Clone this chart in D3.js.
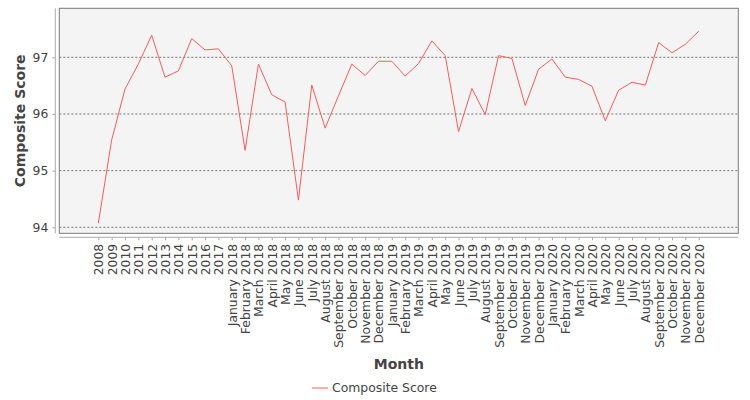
<!DOCTYPE html>
<meta charset="utf-8">
<script src="https://d3js.org/d3.v7.min.js"></script>
<style>
  body { margin: 0; background: #fff; }
  text { font-family: "DejaVu Sans", sans-serif; fill: #444; }
</style>
<div id="chart"></div>
<script>
  // categories (x axis)
  const months = ["2008", "2009", "2010", "2011", "2012", "2013", "2014", "2015", "2016", "2017",
    "January 2018", "February 2018", "March 2018", "April 2018", "May 2018", "June 2018",
    "July 2018", "August 2018", "September 2018", "October 2018", "November 2018", "December 2018",
    "January 2019", "February 2019", "March 2019", "April 2019", "May 2019", "June 2019",
    "July 2019", "August 2019", "September 2019", "October 2019", "November 2019", "December 2019",
    "January 2020", "February 2020", "March 2020", "April 2020", "May 2020", "June 2020",
    "July 2020", "August 2020", "September 2020", "October 2020", "November 2020", "December 2020"]

  // series values
  const composite = [94.07, 95.54, 96.44, 96.88, 97.39, 96.65, 96.76, 97.33, 97.13, 97.15,
    96.85, 95.36, 96.88, 96.34, 96.21, 94.48, 96.51, 95.75, 96.32, 96.88, 96.68, 96.93,
    96.93, 96.67, 96.89, 97.29, 97.03, 95.69, 96.45, 95.99, 97.03, 96.98, 96.15, 96.79,
    96.97, 96.65, 96.61, 96.49, 95.88, 96.42, 96.56, 96.51, 97.26, 97.08, 97.23, 97.46]

  const yTicks = [94, 95, 96, 97]
  const yRange = [93.894, 97.865]

  const W = 750, H = 400
  const plot = { left: 59.3, right: 738.3, top: 8.3, bottom: 233.3 }

  const svg = d3.select("#chart").append("svg")
    .attr("width", W).attr("height", H)

  // scales
  const x = d3.scalePoint()
    .domain(months)
    .range([98.3, 698.7])

  const y = d3.scaleLinear()
    .domain(yRange)
    .range([plot.bottom, plot.top])

  // plot background + border
  svg.append("rect")
    .attr("x", plot.left).attr("y", plot.top)
    .attr("width", plot.right - plot.left).attr("height", plot.bottom - plot.top)
    .style("fill", "#f4f4f4")
    .style("stroke", "#7a7a7a")
    .style("stroke-width", 1)

  // horizontal grid lines
  svg.selectAll(".grid")
    .data(yTicks)
    .join("line")
    .attr("class", "grid")
    .attr("x1", plot.left).attr("x2", plot.right)
    .attr("y1", d => y(d)).attr("y2", d => y(d))
    .style("stroke", "#777")
    .style("stroke-width", 1)
    .style("stroke-dasharray", "2,2")

  // y axis
  const yAxis = svg.append("g")
    .attr("transform", "translate(55.3,0)")
    .call(d3.axisLeft(y).tickValues(yTicks).tickSize(3).tickPadding(4).tickFormat(d3.format("d")))
  yAxis.select(".domain").remove()
  yAxis.append("line")
    .attr("y1", plot.top).attr("y2", plot.bottom)
    .style("stroke", "#aaa")
  yAxis.selectAll(".tick line").style("stroke", "#aaa")
  yAxis.selectAll(".tick text")
    .style("font-size", "12.4px")
    .style("font-family", "DejaVu Sans")
    .style("fill", "#444")

  // x axis
  const xAxis = svg.append("g")
    .attr("transform", "translate(0,237.3)")
    .call(d3.axisBottom(x).tickSize(3))
  xAxis.select(".domain").remove()
  xAxis.append("line")
    .attr("x1", plot.left).attr("x2", plot.right)
    .style("stroke", "#aaa")
  xAxis.selectAll(".tick line").style("stroke", "#aaa")
  xAxis.selectAll(".tick text")
    .attr("x", 0).attr("y", 0)
    .attr("dy", "0.36em")
    .attr("transform", "translate(0,6.5) rotate(-90)")
    .style("text-anchor", "end")
    .style("font-size", "12.4px")
    .style("font-family", "DejaVu Sans")
    .style("fill", "#444")

  // the line
  const line = d3.line()
    .x((d, i) => x(months[i]))
    .y(d => y(d))

  svg.append("path")
    .datum(composite)
    .attr("d", line)
    .style("fill", "none")
    .style("stroke", "#ff5a5a")
    .style("stroke-width", 1)

  // axis titles
  svg.append("text")
    .attr("transform", `translate(25,${(plot.top + plot.bottom) / 2}) rotate(-90)`)
    .style("text-anchor", "middle")
    .style("font-size", "14px")
    .style("font-weight", "bold")
    .text("Composite Score")

  svg.append("text")
    .attr("x", (plot.left + plot.right) / 2).attr("y", 369)
    .style("text-anchor", "middle")
    .style("font-size", "14px")
    .style("font-weight", "bold")
    .text("Month")

  // legend
  svg.append("line")
    .attr("x1", 312).attr("x2", 328).attr("y1", 388).attr("y2", 388)
    .style("stroke", "#ff5a5a")
  svg.append("text")
    .attr("x", 332).attr("y", 392)
    .style("font-size", "12.4px")
    .text("Composite Score")
</script>
